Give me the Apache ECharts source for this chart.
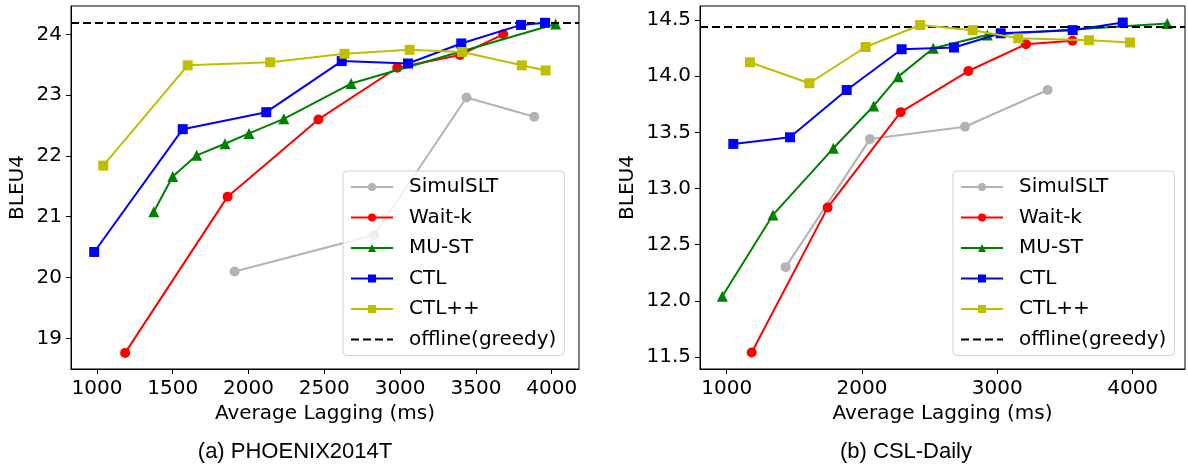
<!DOCTYPE html>
<html>
<head>
<meta charset="utf-8">
<script src="https://cdn.jsdelivr.net/npm/echarts@6.0.0/dist/echarts.min.js"></script>
<style>
  html, body { margin: 0; padding: 0; background: #fff; }
  #main { width: 1188px; height: 464px; }
</style>
</head>
<body>
<div id="main"></div>
<script>
// ---- data (Average Lagging ms, BLEU4) ----
var methodNames = ['SimulSLT', 'Wait-k', 'MU-ST', 'CTL', 'CTL++'];
var offlineName = 'offline(greedy)';

// (a) PHOENIX2014T
var phxSimulSLT = [[1908, 20.10], [2830, 20.70], [3438, 22.96], [3885, 22.645]];
var phxWaitK = [[1186, 18.76], [1862, 21.33], [2461, 22.60], [2981, 23.45], [3395, 23.66], [3680, 24.00]];
var phxMUST = [[1375, 21.08], [1500, 21.66], [1658, 22.01], [1845, 22.20], [2003, 22.37], [2233, 22.61], [2677, 23.19], [4026, 24.17]];
var phxCTL = [[982, 20.42], [1566, 22.44], [2117, 22.72], [2615, 23.56], [3052, 23.52], [3403, 23.85], [3798, 24.155], [3956, 24.19]];
var phxCTLpp = [[1042, 21.84], [1599, 23.49], [2143, 23.54], [2633, 23.68], [3063, 23.745], [3409, 23.71], [3803, 23.49], [3960, 23.405]];
var phxOffline = 24.19;
var phxXTicks = [1000, 1500, 2000, 2500, 3000, 3500, 4000];
var phxYTicks = [19, 20, 21, 22, 23, 24];

// (b) CSL-Daily
var cslSimulSLT = [[1436, 12.30], [2059, 13.44], [2761, 13.55], [3372, 13.877]];
var cslWaitK = [[1185, 11.54], [1746, 12.83], [2286, 13.68], [2786, 14.046], [3212, 14.285], [3555, 14.316]];
var cslMUST = [[968, 12.04], [1342, 12.765], [1788, 13.358], [2086, 13.735], [2268, 13.996], [2527, 14.248], [2926, 14.367], [4256, 14.47]];
var cslCTL = [[1049, 13.397], [1468, 13.456], [1887, 13.877], [2293, 14.24], [2680, 14.255], [3025, 14.382], [3557, 14.41], [3927, 14.478]];
var cslCTLpp = [[1172, 14.124], [1611, 13.937], [2027, 14.26], [2429, 14.456], [2818, 14.41], [3155, 14.337], [3678, 14.32], [3981, 14.30]];
var cslOffline = 14.44;
var cslXTicks = [1000, 2000, 3000, 4000];
var cslYTicks = [11.5, 12.0, 12.5, 13.0, 13.5, 14.0, 14.5];

// ---- styles ----
var styles = {
  'SimulSLT': { color: '#b3b3b3', symbol: 'circle', size: 10 },
  'Wait-k': { color: '#ff0000', symbol: 'circle', size: 10 },
  'MU-ST': { color: '#008000', symbol: 'triangle', size: 11 },
  'CTL': { color: '#0000ff', symbol: 'rect', size: 10 },
  'CTL++': { color: '#bfbf00', symbol: 'rect', size: 10 }
};
var font = 'DejaVu Sans';

function makeSeries(idx, sets, offline) {
  var out = methodNames.map(function (name, i) {
    var s = styles[name];
    return {
      name: name,
      type: 'line',
      xAxisIndex: idx,
      yAxisIndex: idx,
      data: sets[i],
      symbol: s.symbol,
      symbolSize: s.size,
      lineStyle: { color: s.color, width: 2 },
      itemStyle: { color: s.color },
      z: 2 + i,
      animation: false
    };
  });
  out.push({
    name: offlineName,
    type: 'line',
    xAxisIndex: idx,
    yAxisIndex: idx,
    data: [],
    symbol: 'none',
    lineStyle: { color: '#000', width: 2, type: [8, 4] },
    itemStyle: { color: '#000' },
    animation: false,
    markLine: {
      silent: true,
      symbol: 'none',
      label: { show: false },
      lineStyle: { color: '#000', width: 2, type: [8, 4] },
      data: [{ yAxis: offline }],
      animation: false
    }
  });
  return out;
}

function xAxis(idx, min, max, ticks) {
  return {
    type: 'value', gridIndex: idx, min: min, max: max,
    name: 'Average Lagging (ms)', nameLocation: 'middle', nameGap: 32,
    nameTextStyle: { fontFamily: font, fontSize: 20, color: '#000' },
    axisLine: { show: true, lineStyle: { color: '#000', width: 1 } },
    axisTick: { show: true, inside: false, length: 5, lineStyle: { color: '#000' }, customValues: ticks },
    axisLabel: {
      customValues: ticks, margin: 10, fontFamily: font, fontSize: 20, color: '#000',
      formatter: function (v) { return String(v); }
    },
    splitLine: { show: false }
  };
}

function yAxis(idx, min, max, ticks, digits, gap) {
  return {
    type: 'value', gridIndex: idx, min: min, max: max,
    name: 'BLEU4', nameLocation: 'middle', nameGap: gap, nameRotate: 90,
    nameTextStyle: { fontFamily: font, fontSize: 20, color: '#000' },
    axisLine: { show: true, lineStyle: { color: '#000', width: 1 } },
    axisTick: { show: true, inside: false, length: 5, lineStyle: { color: '#000' }, customValues: ticks },
    axisLabel: {
      customValues: ticks, margin: 9, fontFamily: font, fontSize: 20, color: '#000',
      formatter: function (v) { return v.toFixed(digits); }
    },
    splitLine: { show: false }
  };
}

function legend(left, top) {
  return {
    orient: 'vertical', left: left, top: top,
    data: methodNames.concat([{ name: offlineName, itemStyle: { opacity: 0 } }]),
    itemWidth: 42, itemHeight: 10, itemGap: 10.5,
    padding: [6, 8, 6, 7],
    backgroundColor: 'rgba(255,255,255,0.8)',
    borderColor: '#d0d0d0', borderWidth: 1, borderRadius: 4,
    textStyle: { fontFamily: font, fontSize: 20, color: '#000', lineHeight: 20, padding: [0, 0, 0, 11] },
    selectedMode: false,
    z: 10
  };
}

var myChart = echarts.init(document.getElementById('main'));
myChart.setOption({
  backgroundColor: '#fff',
  animation: false,
  title: [
    { text: '(a) PHOENIX2014T', left: 290, top: 436, textAlign: 'center',
      textStyle: { fontFamily: 'Liberation Sans', fontSize: 22, fontWeight: 'normal', color: '#000' } },
    { text: '(b) CSL-Daily', left: 901, top: 436, textAlign: 'center',
      textStyle: { fontFamily: 'Liberation Sans', fontSize: 22, fontWeight: 'normal', color: '#000' } }
  ],
  grid: [
    { left: 71, top: 6, width: 508, height: 363, show: true, borderColor: '#000', borderWidth: 1, backgroundColor: 'transparent' },
    { left: 700, top: 6, width: 485, height: 363, show: true, borderColor: '#000', borderWidth: 1, backgroundColor: 'transparent' }
  ],
  xAxis: [
    xAxis(0, 829, 4180, phxXTicks),
    xAxis(1, 803, 4387, cslXTicks)
  ],
  yAxis: [
    yAxis(0, 18.495, 24.466, phxYTicks, 0, 43),
    yAxis(1, 11.393, 14.625, cslYTicks, 1, 62)
  ],
  legend: [legend(343, 171), legend(953, 171)],
  series: makeSeries(0, [phxSimulSLT, phxWaitK, phxMUST, phxCTL, phxCTLpp], phxOffline)
    .concat(makeSeries(1, [cslSimulSLT, cslWaitK, cslMUST, cslCTL, cslCTLpp], cslOffline))
});
</script>
</body>
</html>
